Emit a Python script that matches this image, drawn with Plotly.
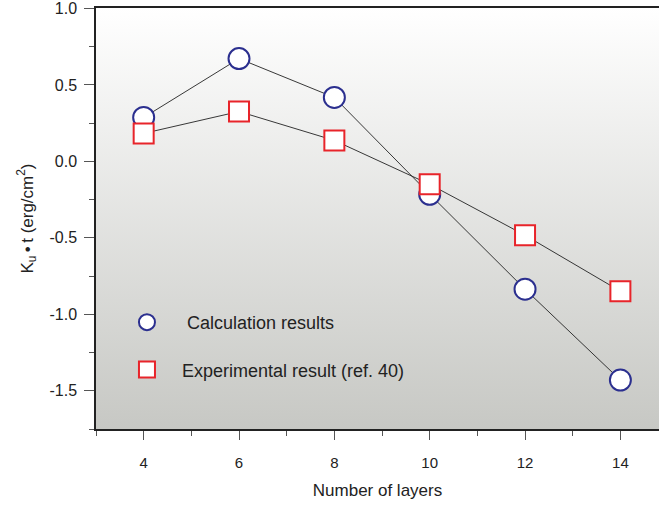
import plotly.graph_objects as go

layers = [4, 6, 8, 10, 12, 14]
calc_vals = [0.287, 0.672, 0.418, -0.215, -0.836, -1.43]
exp_vals = [0.183, 0.326, 0.137, -0.15, -0.483, -0.849]
calc_name = "Calculation results"
exp_name = "Experimental result (ref. 40)"
x_ticks = [4, 6, 8, 10, 12, 14]
y_ticks = [-1.5, -1.0, -0.5, 0.0, 0.5, 1.0]
y_ticklabels = ["-1.5", "-1.0", "-0.5", "0.0", "0.5", "1.0"]

X_RANGE = [3, 14.81]
Y_RANGE = [-1.75, 1.003]
FONT = "Liberation Sans, Arial, Helvetica, sans-serif"
BLUE = "#2b2f8f"
RED = "#e8242a"

fig = go.Figure()

# background gradient
fig.add_trace(go.Scatter(
    x=[X_RANGE[0], X_RANGE[1] + 1, X_RANGE[1] + 1, X_RANGE[0], X_RANGE[0]],
    y=[Y_RANGE[0], Y_RANGE[0], Y_RANGE[1], Y_RANGE[1], Y_RANGE[0]],
    mode="lines", line=dict(width=0), fill="toself",
    fillgradient=dict(type="vertical",
                      colorscale=[[0, "#c7c8c4"], [1, "#ffffff"]]),
    hoverinfo="skip", showlegend=False,
))

calc_marker = dict(symbol="circle", size=21, color="white",
                   line=dict(color=BLUE, width=2))
exp_marker = dict(symbol="square", size=20, color="white",
                  line=dict(color=RED, width=2))

fig.add_trace(go.Scatter(
    x=layers, y=calc_vals, mode="lines+markers",
    line=dict(color="#222222", width=0.9), marker=calc_marker,
    showlegend=False,
))
fig.add_trace(go.Scatter(
    x=layers, y=exp_vals, mode="lines+markers",
    line=dict(color="#222222", width=0.9), marker=exp_marker,
    showlegend=False,
))
# legend entries (markers only)
fig.add_trace(go.Scatter(
    x=[None], y=[None], mode="markers", marker=calc_marker,
    name="\u00a0\u00a0\u00a0\u00a0" + calc_name, legendgroup="a",
))
fig.add_trace(go.Scatter(
    x=[None], y=[None], mode="markers", marker=exp_marker,
    name="\u00a0\u00a0\u00a0" + exp_name, legendgroup="b",
))

fig.update_layout(
    width=659, height=505,
    margin=dict(l=96, r=0, t=8, b=76),
    paper_bgcolor="white", plot_bgcolor="white",
    font=dict(family=FONT, size=16, color="#222222"),
    showlegend=True,
    legend=dict(x=0.055, y=0.297, xanchor="left", yanchor="top",
                bgcolor="rgba(0,0,0,0)", font=dict(size=18, family=FONT),
                traceorder="grouped", tracegroupgap=21, itemsizing="trace"),
    xaxis=dict(range=X_RANGE, tickvals=x_ticks, ticks="outside", ticklen=9,
               tickcolor="#555555", tickwidth=1.2, ticklabelstandoff=10,
               minor=dict(dtick=1, tick0=3, ticks="outside", ticklen=5,
                          tickcolor="#555555", tickwidth=1.2),
               showline=True, linecolor="#222222", linewidth=1.5, mirror=True,
               showgrid=False, zeroline=False,
               tickfont=dict(size=15),
               title=dict(text="Number of layers", font=dict(size=17), standoff=14)),
    yaxis=dict(range=Y_RANGE, tickvals=y_ticks, ticktext=y_ticklabels,
               ticks="outside", ticklen=10, tickcolor="#555555", tickwidth=1.2,
               ticklabelstandoff=4,
               minor=dict(dtick=0.25, tick0=0, ticks="outside", ticklen=5,
                          tickcolor="#555555", tickwidth=1.2),
               showline=True, linecolor="#222222", linewidth=1.5,
               showgrid=False, zeroline=False,
               tickfont=dict(size=16),
               title=dict(text="K<sub>u</sub>\u2009\u2022\u2009t (erg/cm<sup>2</sup>)",
                          font=dict(size=17), standoff=12)),
)

fig.write_html("out.html")
